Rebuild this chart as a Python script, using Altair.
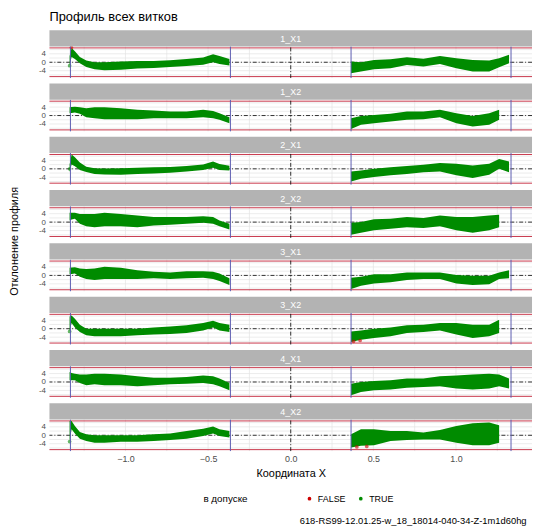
import altair as alt
import pandas as pd

FONT = "Liberation Sans"

TITLE = "Профиль всех витков"
X_TITLE = "Координата X"
Y_TITLE = "Отклонение профиля"
LEGEND_TITLE = "в допуске"
CAPTION = "618-RS99-12.01.25-w_18_18014-040-34-Z-1m1d60hg"

FACETS = ["1_X1", "1_X2", "2_X1", "2_X2", "3_X1", "3_X2", "4_X1", "4_X2"]

X_LEFT = [-1.338, -1.326, -1.306, -1.276, -1.237, -1.187, -1.127, -1.028,
          -0.928, -0.829, -0.730, -0.630, -0.530, -0.470, -0.431, -0.371]
X_RIGHT = [0.365, 0.425, 0.504, 0.604, 0.703, 0.803, 0.903, 1.002,
           1.101, 1.201, 1.261, 1.321]

HI_LEFT = {
    "1_X1": [3.0, 6.8, 5.2, 2.5, 0.8, 0.0, 0.0, 0.3, 0.6, 0.6, 1.0, 1.5, 2.2, 3.8, 3.0, 1.5],
    "1_X2": [3.9, 4.0, 4.2, 3.9, 3.5, 3.9, 3.9, 3.5, 2.7, 2.4, 1.9, 1.9, 2.7, 2.2, 1.1, -0.8],
    "2_X1": [2.0, 6.8, 5.5, 3.0, 1.0, 0.3, 0.2, 0.3, 0.5, 0.7, 0.9, 1.3, 2.0, 3.5, 2.3, 1.5],
    "2_X2": [4.4, 4.4, 4.4, 3.9, 3.9, 3.9, 4.4, 3.9, 3.1, 2.4, 2.4, 2.4, 2.8, 2.4, 0.8, -0.8],
    "3_X1": [3.6, 3.7, 3.9, 3.3, 3.0, 3.3, 4.1, 3.6, 2.5, 1.7, 1.4, 2.0, 2.0, 1.7, 0.9, -1.4],
    "3_X2": [5.8, 6.3, 4.7, 1.9, 0.0, 0.0, 0.0, 0.0, 0.0, 0.6, 1.1, 1.6, 2.7, 3.8, 2.7, 1.9],
    "4_X1": [4.7, 4.3, 3.9, 3.6, 3.6, 3.9, 3.9, 3.6, 2.7, 2.0, 2.0, 2.4, 3.1, 2.7, 1.6, -0.5],
    "4_X2": [6.8, 6.8, 4.4, 1.6, 0.5, 0.0, 0.0, 0.0, 0.0, 0.5, 0.9, 2.0, 3.1, 4.1, 2.8, 2.0],
}
LO_LEFT = {
    "1_X1": [-1.5, 2.5, 1.5, -0.5, -2.2, -3.3, -3.8, -3.5, -3.0, -2.7, -2.2, -1.8, -1.2, 0.0, -0.8, -1.5],
    "1_X2": [1.1, 1.2, 1.4, 0.8, -0.8, -1.3, -1.7, -1.7, -1.7, -1.3, -1.3, -1.3, -0.8, -1.3, -2.0, -3.6],
    "2_X1": [-1.5, 2.0, 1.2, -0.5, -1.5, -2.5, -2.7, -2.8, -2.5, -2.2, -1.8, -1.3, -0.6, 0.5, -0.5, -0.8],
    "2_X2": [0.8, 1.2, 1.6, -0.8, -1.9, -2.4, -1.9, -1.9, -2.4, -1.6, -1.3, -0.8, -0.3, -0.8, -1.9, -3.5],
    "3_X1": [0.5, 0.7, 0.9, -0.6, -1.7, -2.2, -1.7, -1.7, -1.7, -1.4, -1.7, -1.4, -1.1, -1.7, -2.7, -4.6],
    "3_X2": [-1.3, 2.7, 0.6, -1.6, -3.1, -3.6, -3.6, -3.6, -3.1, -2.8, -2.5, -2.0, -0.9, 0.6, -0.9, -1.6],
    "4_X1": [0.8, 0.8, 0.8, -0.5, -1.6, -1.1, -1.6, -1.6, -2.0, -1.6, -1.1, -0.8, -0.5, -1.1, -2.0, -3.9],
    "4_X2": [-2.7, 2.8, 0.9, -1.6, -2.7, -3.5, -3.5, -3.1, -3.1, -2.7, -2.2, -1.6, -0.3, 0.9, -0.3, -1.1],
}
HI_RIGHT = {
    "1_X1": [0.3, 0.0, 1.1, 1.4, 2.4, 1.6, 3.0, 1.9, 1.1, 0.8, 1.9, 3.5],
    "1_X2": [-1.3, -0.2, 0.3, 0.8, 1.9, 1.9, 2.7, 1.1, -0.2, 1.1, 2.7, None],
    "2_X1": [-1.3, -0.8, 0.0, 0.8, 1.3, 1.9, 2.8, 2.4, 1.6, 2.4, 4.7, 3.5],
    "2_X2": [-0.3, 0.0, 1.3, 1.6, 2.4, 1.9, 3.1, 2.4, 2.4, 3.1, 3.5, None],
    "3_X1": [-1.1, -0.6, 0.5, 0.5, 1.4, 1.4, 1.4, 0.2, -0.2, -0.2, 1.4, 2.5],
    "3_X2": [-1.3, -0.9, 0.0, 0.6, 1.6, 1.9, 2.7, 2.7, 1.9, 1.9, 4.2, None],
    "4_X1": [-0.8, 0.0, 0.5, 0.8, 1.6, 1.6, 2.7, 3.1, 3.6, 3.9, 3.6, 1.6],
    "4_X2": [0.5, 2.8, 2.8, 2.0, 2.0, 1.3, 2.5, 4.4, 5.7, 6.0, 4.7, None],
}
LO_RIGHT = {
    "1_X1": [-5.2, -4.4, -3.3, -2.8, -1.3, -2.0, -0.8, -2.8, -4.4, -4.4, -2.4, -0.5],
    "1_X2": [-6.4, -4.4, -3.6, -2.8, -2.0, -1.7, -0.8, -3.6, -5.2, -4.4, -2.0, None],
    "2_X1": [-6.0, -4.7, -3.9, -3.1, -2.4, -1.6, -1.3, -3.1, -4.4, -2.8, 0.0, -1.6],
    "2_X2": [-6.0, -5.0, -3.9, -3.1, -2.4, -2.8, -1.9, -3.9, -5.0, -3.9, -2.4, None],
    "3_X1": [-6.4, -4.9, -3.8, -3.3, -2.2, -1.7, -1.7, -3.8, -4.6, -4.2, -1.7, -1.4],
    "3_X2": [-6.3, -5.2, -4.4, -3.6, -2.0, -1.6, -0.9, -2.8, -4.4, -3.6, -2.0, None],
    "4_X1": [-6.3, -4.7, -3.9, -3.6, -2.7, -2.4, -2.0, -3.1, -3.6, -3.1, -2.0, -3.1],
    "4_X2": [-5.8, -5.0, -4.7, -2.7, -2.2, -2.0, -2.0, -3.5, -4.7, -4.7, -3.5, None],
}

# single measured points (in / out of tolerance)
PT_FACET = ["1_X1", "1_X1", "2_X1", "3_X2", "3_X2", "3_X2", "4_X2", "4_X2", "4_X2"]
PT_X = [-1.327, -1.338, -1.338, -1.338, 0.38, 0.42, -1.338, 0.40, 0.46]
PT_Y = [7.0, -1.6, 0.0, -1.3, -6.0, -5.6, -3.0, -5.5, -5.3]
PT_OK = ["FALSE", "TRUE", "TRUE", "TRUE", "FALSE", "FALSE", "TRUE", "FALSE", "FALSE"]

LIMIT_X = [-1.333, -0.365, 0.365, 1.333]
TOL_Y = [-6.8, 6.8]
X_TICKS = [-1.0, -0.5, 0.0, 0.5, 1.0]
Y_TICKS = [-4, 0, 4]
X_GRID = [-1.25, -1.0, -0.75, -0.5, -0.25, 0.0, 0.25, 0.5, 0.75, 1.0, 1.25]
Y_GRID = [-6, -4, -2, 0, 2, 4, 6]

X_DOM = [-1.46, 1.46]
PANEL_LO, PANEL_HI = -7.48, 7.48
W = 489
PANEL_PX = 32
STRIP_PX = 16.5
Y_TOP = PANEL_HI + (PANEL_HI - PANEL_LO) * STRIP_PX / PANEL_PX
H = PANEL_PX + STRIP_PX

GREEN = "#008B00"
RED = "#CD0000"
GRID = "#E4E4E4"

rows = []
for f in FACETS:
    for gx in X_GRID:
        rows.append(dict(kind="gx", facet=f, x=gx, y0=PANEL_LO, y1=PANEL_HI))
    for gy in Y_GRID:
        rows.append(dict(kind="gy", facet=f, y=gy))
    for seg, xs, his, los in (("L", X_LEFT, HI_LEFT[f], LO_LEFT[f]),
                              ("R", X_RIGHT, HI_RIGHT[f], LO_RIGHT[f])):
        for x, hi, lo in zip(xs, his, los):
            if hi is None:
                continue
            rows.append(dict(kind="band", facet=f, seg=f + seg, x=x, hi=hi, lo=lo))
    rows.append(dict(kind="strip", facet=f, label=f))
    rows.append(dict(kind="zero", facet=f, x=0.0, y=0.0, y0=PANEL_LO, y1=PANEL_HI))
    for xv in LIMIT_X:
        rows.append(dict(kind="vline", facet=f, x=xv, y0=PANEL_LO, y1=PANEL_HI))
    for tv in TOL_Y:
        rows.append(dict(kind="tol", facet=f, y=tv))
for f, x, y, ok in zip(PT_FACET, PT_X, PT_Y, PT_OK):
    rows.append(dict(kind="pt", facet=f, x=x, y=y, ok=ok))
df = pd.DataFrame(rows)

x_scale = alt.Scale(domain=X_DOM, nice=False, zero=False)
y_scale = alt.Scale(domain=[PANEL_LO, Y_TOP], nice=False, zero=False)
x_axis = alt.Axis(values=X_TICKS, title=X_TITLE, grid=False, format=".1f")
y_axis = alt.Axis(values=Y_TICKS, title="", grid=False, labelFontSize=8,
                  labelExpr="'' + datum.value")


def X(field):
    return alt.X(f"{field}:Q", scale=x_scale, axis=x_axis)


def Y(field):
    return alt.Y(f"{field}:Q", scale=y_scale, axis=y_axis)


base = alt.Chart().properties(width=W, height=H)

grid_x = base.mark_rule(color=GRID, strokeWidth=0.7).encode(
    x=X("x"), y=Y("y0"), y2="y1").transform_filter(alt.datum.kind == "gx")

grid_y = base.mark_rule(color=GRID, strokeWidth=0.7).encode(
    y=Y("y")).transform_filter(alt.datum.kind == "gy")

tol = base.mark_rule(color="#C8374A", strokeWidth=1).encode(
    y=Y("y")).transform_filter(alt.datum.kind == "tol")

zero_h = base.mark_rule(color="black", strokeWidth=0.8, strokeDash=[4, 2, 1, 2]).encode(
    y=Y("y")).transform_filter(alt.datum.kind == "zero")

zero_v = base.mark_rule(color="black", strokeWidth=0.8, strokeDash=[4, 2, 1, 2]).encode(
    x=X("x"), y=Y("y0"), y2="y1").transform_filter(alt.datum.kind == "zero")

band = base.mark_area(color=GREEN, opacity=1, interpolate="linear").encode(
    x=X("x"), y=Y("lo"), y2="hi", detail="seg:N").transform_filter(alt.datum.kind == "band")

pts = base.mark_circle(size=14, opacity=0.6).encode(
    x=X("x"), y=Y("y"),
    color=alt.Color("ok:N", scale=alt.Scale(domain=["FALSE", "TRUE"], range=[RED, GREEN]),
                    legend=alt.Legend(title=LEGEND_TITLE, symbolOpacity=1))
).transform_filter(alt.datum.kind == "pt")

vl = base.mark_rule(color="#5B5BB0", strokeWidth=1).encode(
    x=X("x"), y=Y("y0"), y2="y1").transform_filter(alt.datum.kind == "vline")

strip = base.mark_rect(color="#B3B3B3").encode(
    x=alt.value(0), x2=alt.value(W), y=alt.value(0), y2=alt.value(STRIP_PX)
).transform_filter(alt.datum.kind == "strip")

strip_txt = base.mark_text(color="white", font=FONT, fontSize=9, baseline="middle").encode(
    x=alt.value(W / 2), y=alt.value(STRIP_PX / 2 + 0.5), text="label:N"
).transform_filter(alt.datum.kind == "strip")

layered = alt.layer(grid_x, grid_y, tol, zero_h, zero_v, band, pts, vl, strip, strip_txt, data=df)

facet = layered.facet(
    row=alt.Row("facet:N", sort=FACETS,
                header=alt.Header(labels=False, title=Y_TITLE, titleOrient="left",
                                  titleFont=FONT, titleFontSize=11, titleFontWeight="normal",
                                  titleColor="black", titlePadding=8)),
    spacing=5,
).properties(title=alt.TitleParams(TITLE, anchor="start", frame="group", font=FONT,
                                   fontSize=13, fontWeight="normal", color="black", offset=6))

chart = alt.vconcat(facet).properties(
    padding={"left": 0, "top": 0, "right": 0, "bottom": 0},
    title=alt.TitleParams(CAPTION, orient="bottom", anchor="end", font=FONT, fontSize=9.5,
                          fontWeight="normal", color="black", offset=12, dx=-6),
).configure_view(strokeWidth=0).configure_axis(
    labelFont=FONT, labelFontSize=9, labelColor="#4D4D4D", labelPadding=3,
    domain=False, ticks=False,
    titleFont=FONT, titleFontSize=11, titleFontWeight="normal", titleColor="black", titlePadding=4,
).configure_legend(
    orient="none", legendX=156, legendY=470, direction="horizontal", titleOrient="left",
    titleFont=FONT, titleFontSize=10, titleFontWeight="normal", titleColor="black",
    labelFont=FONT, labelFontSize=9, labelColor="black", symbolSize=14, symbolType="circle",
    titlePadding=58, columnPadding=10,
)

chart.save("out.html", embed_options={"renderer": "svg", "actions": False})
